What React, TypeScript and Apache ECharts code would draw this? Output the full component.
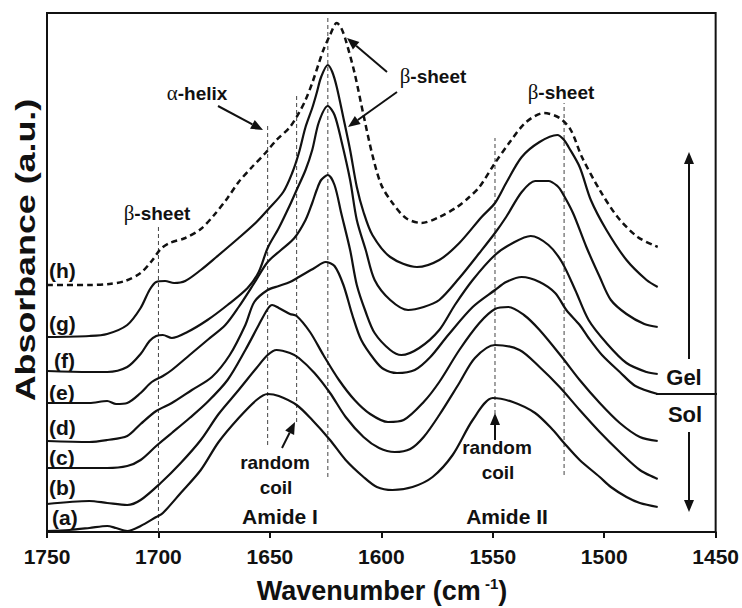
import React, { useEffect, useRef } from 'react';
import * as echarts from 'echarts';

// FTIR spectra (wavenumber in cm^-1, absorbance in arbitrary units, offset per sample)
const spectrumA: [number, number][] = [
  [1750, 0.01], [1740, 0.02], [1731, 0.04], [1723, 0.06], [1719, 0.04], [1714, 0.01], [1708, 0.06],
  [1701, 0.15], [1698, 0.19], [1690, 0.39], [1681, 0.62], [1673, 0.9], [1664, 1.14], [1656, 1.32],
  [1651, 1.38], [1646, 1.36], [1638, 1.27], [1631, 1.12], [1623, 0.92], [1616, 0.72], [1608, 0.55],
  [1602, 0.45], [1595, 0.42], [1586, 0.45], [1577, 0.55], [1568, 0.77], [1559, 1.12], [1550, 1.34],
  [1541, 1.3], [1531, 1.19], [1523, 1.02], [1518, 0.89], [1511, 0.72], [1502, 0.55], [1497, 0.45],
  [1490, 0.35], [1484, 0.29], [1476, 0.25],
];
const spectrumB: [number, number][] = [
  [1750, 0.28], [1731, 0.31], [1723, 0.29], [1714, 0.27], [1708, 0.32], [1699, 0.49], [1690, 0.69],
  [1681, 0.92], [1673, 1.18], [1664, 1.42], [1656, 1.64], [1651, 1.77], [1647, 1.82], [1641, 1.79],
  [1637, 1.74], [1630, 1.59], [1623, 1.39], [1616, 1.15], [1608, 0.95], [1601, 0.84], [1594, 0.8],
  [1587, 0.83], [1581, 0.95], [1574, 1.17], [1565, 1.49], [1558, 1.74], [1549, 1.87], [1538, 1.82],
  [1529, 1.65], [1520, 1.45], [1511, 1.22], [1502, 1.0], [1493, 0.8], [1484, 0.62], [1476, 0.53],
];
const spectrumC: [number, number][] = [
  [1750, 0.64], [1723, 0.64], [1714, 0.66], [1708, 0.72], [1701, 0.86], [1694, 0.99], [1686, 1.14],
  [1678, 1.3], [1669, 1.52], [1661, 1.82], [1655, 2.07], [1651, 2.23], [1649, 2.27], [1646, 2.24],
  [1641, 2.18], [1638, 2.16], [1632, 2.0], [1626, 1.77], [1619, 1.52], [1612, 1.32], [1605, 1.18],
  [1597, 1.1], [1590, 1.12], [1581, 1.3], [1574, 1.5], [1565, 1.82], [1556, 2.09], [1549, 2.23],
  [1543, 2.25], [1536, 2.17], [1529, 2.02], [1519, 1.75], [1511, 1.52], [1502, 1.29], [1493, 1.09],
  [1484, 0.95], [1476, 0.91],
];
const spectrumD: [number, number][] = [
  [1750, 0.91], [1731, 0.9], [1723, 0.92], [1714, 0.96], [1708, 1.08], [1701, 1.21], [1694, 1.29],
  [1685, 1.42], [1676, 1.55], [1668, 1.77], [1661, 2.07], [1657, 2.3], [1651, 2.42], [1646, 2.46],
  [1641, 2.5], [1637, 2.55], [1630, 2.64], [1625, 2.7], [1621, 2.66], [1617, 2.47], [1613, 2.17],
  [1609, 1.92], [1603, 1.72], [1599, 1.63], [1593, 1.59], [1585, 1.62], [1578, 1.75], [1570, 1.97],
  [1559, 2.25], [1549, 2.42], [1544, 2.5], [1537, 2.55], [1529, 2.5], [1522, 2.39], [1517, 2.22],
  [1511, 2.07], [1507, 1.94], [1501, 1.77], [1493, 1.6], [1486, 1.46], [1476, 1.38],
];
const spectrumE: [number, number][] = [
  [1750, 1.29], [1731, 1.29], [1723, 1.31], [1719, 1.28], [1714, 1.29], [1708, 1.39], [1703, 1.5],
  [1698, 1.56], [1694, 1.62], [1686, 1.77], [1678, 1.92], [1670, 2.07], [1664, 2.25], [1657, 2.49],
  [1651, 2.7], [1645, 2.82], [1639, 2.94], [1634, 3.12], [1631, 3.29], [1629, 3.42], [1627, 3.52],
  [1624, 3.57], [1621, 3.47], [1618, 3.19], [1614, 2.82], [1611, 2.47], [1607, 2.2], [1603, 1.99],
  [1596, 1.82], [1591, 1.77], [1583, 1.84], [1574, 2.02], [1567, 2.27], [1559, 2.52], [1549, 2.77],
  [1541, 2.89], [1533, 2.96], [1525, 2.87], [1519, 2.7], [1513, 2.42], [1507, 2.12], [1499, 1.89],
  [1490, 1.69], [1481, 1.6], [1476, 1.58],
];
const spectrumF: [number, number][] = [
  [1750, 1.61], [1731, 1.6], [1723, 1.6], [1714, 1.65], [1708, 1.78], [1704, 1.91], [1701, 1.96],
  [1698, 1.97], [1694, 1.94], [1687, 2.0], [1678, 2.12], [1669, 2.27], [1660, 2.44], [1655, 2.6],
  [1651, 2.84], [1646, 3.04], [1641, 3.27], [1638, 3.42], [1634, 3.62], [1631, 3.82], [1628, 4.1],
  [1624, 4.26], [1621, 4.17], [1618, 3.92], [1614, 3.52], [1611, 3.12], [1607, 2.82], [1603, 2.52],
  [1596, 2.32], [1588, 2.22], [1581, 2.25], [1574, 2.32], [1565, 2.54], [1556, 2.79], [1549, 2.99],
  [1544, 3.15], [1537, 3.4], [1531, 3.51], [1525, 3.51], [1521, 3.46], [1519, 3.4], [1514, 3.19],
  [1508, 2.85], [1502, 2.55], [1497, 2.32], [1490, 2.18], [1482, 2.08], [1476, 2.05],
];
const spectrumG: [number, number][] = [
  [1750, 1.95], [1731, 1.96], [1723, 1.98], [1714, 2.07], [1708, 2.24], [1704, 2.42], [1701, 2.5],
  [1697, 2.51], [1693, 2.49], [1688, 2.51], [1681, 2.62], [1674, 2.75], [1664, 2.94], [1656, 3.1],
  [1651, 3.22], [1644, 3.4], [1640, 3.59], [1637, 3.79], [1634, 4.05], [1631, 4.24], [1629, 4.39],
  [1627, 4.55], [1624, 4.67], [1622, 4.6], [1620, 4.45], [1617, 4.14], [1614, 3.82], [1611, 3.45],
  [1608, 3.2], [1604, 2.97], [1596, 2.75], [1584, 2.65], [1574, 2.72], [1565, 2.89], [1555, 3.15],
  [1549, 3.29], [1544, 3.49], [1537, 3.75], [1529, 3.9], [1521, 3.97], [1518, 3.92], [1516, 3.85],
  [1511, 3.65], [1506, 3.32], [1499, 3.02], [1490, 2.72], [1481, 2.52], [1476, 2.45],
];
const spectrumH: [number, number][] = [
  [1750, 2.47], [1731, 2.47], [1722, 2.48], [1715, 2.51], [1708, 2.59], [1703, 2.71], [1699, 2.83],
  [1695, 2.89], [1688, 2.94], [1681, 3.03], [1675, 3.17], [1669, 3.34], [1664, 3.5], [1658, 3.65],
  [1652, 3.79], [1647, 3.92], [1641, 4.05], [1637, 4.19], [1634, 4.32], [1631, 4.49], [1628, 4.69],
  [1626, 4.82], [1623, 4.97], [1620, 5.09], [1618, 5.04], [1616, 4.92], [1612, 4.59], [1608, 4.17],
  [1604, 3.77], [1600, 3.47], [1595, 3.29], [1589, 3.14], [1582, 3.09], [1574, 3.15], [1566, 3.25],
  [1561, 3.34], [1556, 3.45], [1549, 3.69], [1542, 3.91], [1535, 4.1], [1527, 4.19], [1520, 4.14],
  [1515, 4.02], [1510, 3.75], [1502, 3.42], [1494, 3.15], [1485, 2.95], [1476, 2.85],
];

const spectra = [spectrumA, spectrumB, spectrumC, spectrumD, spectrumE, spectrumF, spectrumG, spectrumH];
const spectrumLabels = ['(a)', '(b)', '(c)', '(d)', '(e)', '(f)', '(g)', '(h)'];

// Band assignments marked by vertical dashed guides: [wavenumber, lower, upper]
const bandGuides: [number, number, number][] = [
  [1700, 0, 3.05],
  [1651, 0.87, 4.09],
  [1638, 1.1, 4.37],
  [1624, 0.55, 5.14],
  [1549, 1.18, 3.94],
  [1518, 0.57, 4.29],
];

const wavenumberMin = 1450;
const wavenumberMax = 1750;
const wavenumberStep = 50;

const SANS = '"Liberation Sans", Arial, sans-serif';
const INK = '#111';

function arrow(x1: number, y1: number, x2: number, y2: number) {
  const dx = x2 - x1;
  const dy = y2 - y1;
  const len = Math.sqrt(dx * dx + dy * dy);
  const ux = dx / len;
  const uy = dy / len;
  const head = 12;
  const half = 5;
  const bx = x2 - ux * head;
  const by = y2 - uy * head;
  return [
    {
      type: 'line',
      shape: { x1, y1, x2: bx, y2: by },
      style: { stroke: INK, lineWidth: 2 },
    },
    {
      type: 'polygon',
      shape: {
        points: [
          [x2, y2],
          [bx - uy * half, by + ux * half],
          [bx + uy * half, by - ux * half],
        ],
      },
      style: { fill: INK },
    },
  ];
}

function greekLabel(x: number, y: number, greek: string, rest: string) {
  return {
    type: 'text',
    x,
    y,
    style: {
      text: `{g|${greek}}{t|${rest}}`,
      align: 'center',
      verticalAlign: 'middle',
      rich: {
        g: { fontFamily: '"Liberation Serif", serif', fontSize: 21, fill: INK },
        t: { fontFamily: SANS, fontWeight: 'bold', fontSize: 19, fill: INK },
      },
    },
  };
}

function plainLabel(x: number, y: number, text: string, size: number, align = 'center') {
  return {
    type: 'text',
    x,
    y,
    style: {
      text,
      align,
      verticalAlign: 'middle',
      fontFamily: SANS,
      fontWeight: 'bold',
      fontSize: size,
      fill: INK,
    },
  };
}

export default function App() {
  const ref = useRef<HTMLDivElement>(null);

  useEffect(() => {
    if (!ref.current) return;
    const chart = echarts.init(ref.current, undefined, { renderer: 'svg' });

    const labelY = [517, 487, 457, 427, 392, 360, 323, 270];
    const labelX = [52, 49, 49, 49, 49, 54, 49, 49];

    const spectrumSeries = spectra.map((data, i) => ({
      type: 'line',
      name: spectrumLabels[i],
      data,
      showSymbol: false,
      smooth: 0.3,
      silent: true,
      z: 3,
      lineStyle: {
        color: INK,
        width: i === 7 ? 2.5 : 2.2,
        type: i === 7 ? [6, 4] : 'solid',
      },
    }));

    const guideSeries = bandGuides.map(([w, lo, hi]) => ({
      type: 'line',
      data: [
        [w, lo],
        [w, hi],
      ],
      showSymbol: false,
      silent: true,
      z: 2,
      lineStyle: { color: '#444', width: 1, type: [4, 3] },
    }));

    chart.setOption({
      animation: false,
      backgroundColor: '#fff',
      grid: {
        left: 47,
        right: 25,
        top: 13,
        bottom: 76,
        show: true,
        borderColor: INK,
        borderWidth: 2,
      },
      xAxis: {
        type: 'value',
        min: wavenumberMin,
        max: wavenumberMax,
        interval: wavenumberStep,
        inverse: true,
        axisLine: { lineStyle: { color: INK, width: 2 } },
        axisTick: { show: true, inside: false, length: 6, lineStyle: { color: INK, width: 2 } },
        axisLabel: {
          color: INK,
          fontFamily: SANS,
          fontWeight: 'bold',
          fontSize: 21,
          margin: 14,
          formatter: (v: number) => String(v),
        },
        splitLine: { show: false },
      },
      yAxis: {
        type: 'value',
        min: 0,
        max: 5.19,
        axisLine: { show: true, lineStyle: { color: INK, width: 2 } },
        axisTick: { show: false },
        axisLabel: { show: false },
        splitLine: { show: false },
      },
      series: [...guideSeries, ...spectrumSeries],
      graphic: [
        // axis titles
        {
          type: 'text',
          x: 382,
          y: 591,
          style: {
            text: '{t|Wavenumber (cm}{s| -1}{t|)}',
            align: 'center',
            verticalAlign: 'middle',
            rich: {
              t: { fontFamily: SANS, fontWeight: 'bold', fontSize: 27, fill: INK, lineHeight: 30 },
              s: { fontFamily: SANS, fontWeight: 'bold', fontSize: 15, fill: INK, verticalAlign: 'top', lineHeight: 30 },
            },
          },
        },
        {
          type: 'text',
          x: 25,
          y: 250,
          rotation: Math.PI / 2,
          scaleX: 1.28,
          style: {
            text: 'Absorbance (a.u.)',
            align: 'center',
            verticalAlign: 'middle',
            fontFamily: SANS,
            fontWeight: 'bold',
            fontSize: 28,
            fill: INK,
          },
        },
        // sample labels
        ...spectrumLabels.map((t, i) => plainLabel(labelX[i], labelY[i], t, 21, 'left')),
        // band annotations
        greekLabel(157, 213, 'β', '-sheet'),
        greekLabel(197, 93, 'α', '-helix'),
        greekLabel(433, 76, 'β', '-sheet'),
        greekLabel(561, 92, 'β', '-sheet'),
        plainLabel(275, 462, 'random', 19),
        plainLabel(276, 487, 'coil', 19),
        plainLabel(280, 516, 'Amide I', 21),
        plainLabel(497, 447, 'random', 19),
        plainLabel(498, 472, 'coil', 19),
        plainLabel(507, 516, 'Amide II', 21),
        plainLabel(684, 377, 'Gel', 22),
        plainLabel(685, 414, 'Sol', 22),
        // gel / sol divider
        {
          type: 'line',
          shape: { x1: 656, y1: 394, x2: 717, y2: 394 },
          style: { stroke: INK, lineWidth: 2 },
        },
        ...arrow(218, 106, 263, 130),
        ...arrow(387, 72, 347, 38),
        ...arrow(397, 92, 348, 127),
        ...arrow(282, 448, 295, 422),
        ...arrow(495, 440, 495, 413),
        ...arrow(689, 359, 689, 152),
        ...arrow(689, 432, 689, 512),
      ],
    });

    return () => chart.dispose();
  }, []);

  return (
    <div
      ref={ref}
      style={{ position: 'absolute', left: 0, top: 0, width: 742, height: 608, background: '#fff' }}
    />
  );
}
